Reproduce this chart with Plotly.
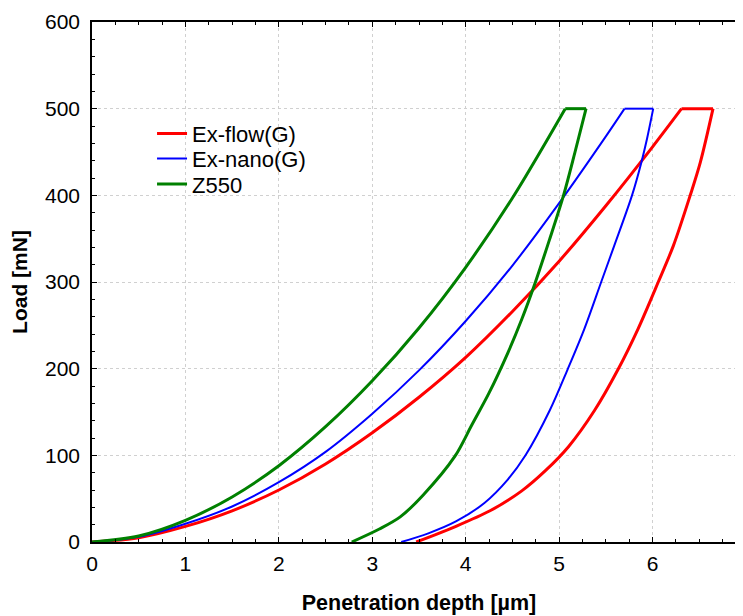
import plotly.graph_objects as go

# ---- data (depth in µm, load in mN) ----
# Ex-flow(G)
flow_load_depth = [0, 0.5, 1.0, 1.5, 2.0, 2.5, 3.0, 3.5, 4.0, 4.5, 5.0, 5.5, 6.0, 6.31]
flow_load_load = [0, 5, 18, 36, 60, 90, 126, 167, 213, 266, 324, 388, 456, 500]
flow_unload_depth = [6.647, 6.511, 6.403, 6.223, 6.061, 5.845, 5.63, 5.38, 5.10, 4.85, 4.60, 4.26, 3.87, 3.47]
flow_unload_load = [500, 438, 400, 342, 300, 246, 199, 152, 110, 82, 59, 36, 17, 0]

# Ex-nano(G)
nano_load_depth = [0, 0.5, 1.0, 1.5, 2.0, 2.5, 3.0, 3.5, 4.0, 4.5, 5.0, 5.5, 5.70]
nano_load_load = [0, 6, 21, 41, 69, 104, 148, 198, 255, 319, 391, 468, 500]
nano_unload_depth = [6.007, 5.94, 5.88, 5.78, 5.59, 5.45, 5.27, 5.09, 4.90, 4.64, 4.45, 4.20, 3.90, 3.60, 3.31]
nano_unload_load = [500, 465, 438, 400, 342, 300, 246, 199, 152, 100, 72, 45, 24, 10, 0]

# Z550
z550_load_depth = [0, 0.5, 1.0, 1.5, 2.0, 2.5, 3.0, 3.5, 4.0, 4.5, 5.065]
z550_load_load = [0, 7, 25, 52, 88, 133, 186, 247, 317, 397, 500]
z550_unload_depth = [5.288, 5.17, 5.047, 4.90, 4.74, 4.60, 4.45, 4.25, 4.065, 3.885, 3.543, 3.299, 3.076, 2.78]
z550_unload_load = [500, 450, 400, 350, 298, 257, 218, 172, 135, 99, 54, 29, 15, 0]

series_names = ["Ex-flow(G)", "Ex-nano(G)", "Z550"]
series_colors = ["#FF0000", "#0000FF", "#008000"]
series_widths = [3, 2, 3]
x_tick_vals = [0, 1, 2, 3, 4, 5, 6, 7]
y_tick_vals = [0, 100, 200, 300, 400, 500, 600]

FONT = "Arial, Liberation Sans, sans-serif"

series = [
    (flow_load_depth, flow_load_load, flow_unload_depth, flow_unload_load),
    (nano_load_depth, nano_load_load, nano_unload_depth, nano_unload_load),
    (z550_load_depth, z550_load_load, z550_unload_depth, z550_unload_load),
]
legend_ids = ["legend", "legend2", "legend3"]
legend_y = [0.7853, 0.7373, 0.688]

fig = go.Figure()
for i, (ld, ll, ud, ul) in enumerate(series):
    line = dict(color=series_colors[i], width=series_widths[i])
    grp = series_names[i]
    lg = legend_ids[i]
    # loading branch
    fig.add_trace(go.Scatter(x=ld, y=ll, mode="lines", name=grp, legendgroup=grp, legend=lg,
                             line=dict(shape="spline", smoothing=0.9, **line)))
    # hold at maximum load
    fig.add_trace(go.Scatter(x=[ld[-1], ud[0]], y=[ll[-1], ul[0]], mode="lines", name=grp,
                             legendgroup=grp, legend=lg, showlegend=False,
                             line=dict(shape="linear", **line)))
    # unloading branch
    fig.add_trace(go.Scatter(x=ud, y=ul, mode="lines", name=grp, legendgroup=grp, legend=lg,
                             showlegend=False, line=dict(shape="spline", smoothing=0.9, **line)))

axis_common = dict(
    showline=True, linecolor="black", linewidth=1.5, mirror="allticks",
    ticks="inside", ticklen=5, tickwidth=1, tickcolor="black",
    showgrid=True, gridcolor="#d0d0d0", griddash="dot", gridwidth=1,
    zeroline=False, automargin=False,
    tickfont=dict(family=FONT, size=21, color="black"),
)

fig.update_xaxes(
    range=[0, 7], tickvals=x_tick_vals, ticktext=[str(v) for v in x_tick_vals],
    minor=dict(ticks="inside", ticklen=3, dtick=0.25, tick0=0, showgrid=False, tickcolor="black"),
    ticklabelstandoff=2,
    title=dict(text="<b>Penetration depth [µm]</b>", font=dict(family=FONT, size=21.5, color="black"),
               standoff=21),
    **axis_common,
)
fig.update_yaxes(
    range=[0, 600], tickvals=y_tick_vals,
    minor=dict(ticks="inside", ticklen=3, dtick=20, tick0=0, showgrid=False, tickcolor="black"),
    ticklabelstandoff=6,
    title=dict(text="<b>Load [mN]</b>", font=dict(family=FONT, size=21, color="black"),
               standoff=14),
    **axis_common,
)

legend_style = dict(x=0.0918, xanchor="left", yanchor="middle",
                    bgcolor="rgba(0,0,0,0)", borderwidth=0,
                    font=dict(family=FONT, size=22, color="black"))

fig.update_layout(
    width=751, height=608,
    margin=dict(l=84, r=13, t=14, b=74, autoexpand=False),
    paper_bgcolor="white", plot_bgcolor="white",
    showlegend=True,
    legend=dict(y=legend_y[0], **legend_style),
    legend2=dict(y=legend_y[1], **legend_style),
    legend3=dict(y=legend_y[2], **legend_style),
    font=dict(family=FONT),
)

fig.write_html("out.html")
